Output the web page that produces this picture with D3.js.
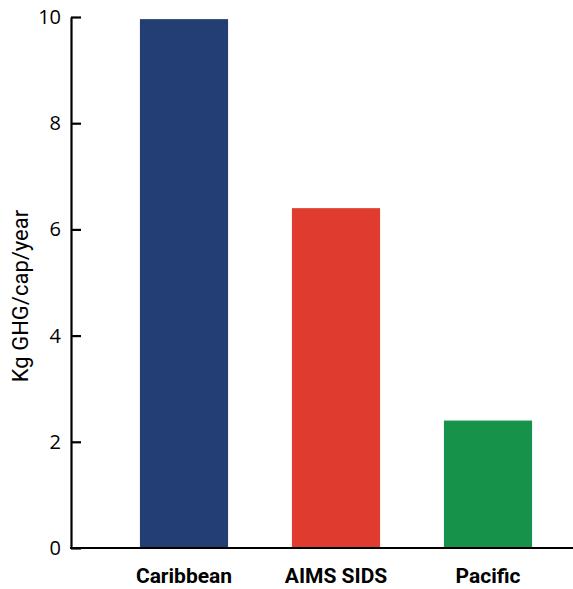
<!DOCTYPE html>
<html lang="en">
<head>
<meta charset="utf-8">
<title>GHG per capita</title>
<script src="https://cdn.jsdelivr.net/npm/d3@7"></script>
<style>
  body { margin: 0; background: #fff; }
</style>
</head>
<body>
<script>
var regions = ["Caribbean", "AIMS SIDS", "Pacific"];
var emissions = [9.96, 6.4, 2.4];
var barColors = ["#223e72", "#df3b2f", "#16924a"];
var yTicks = [0, 2, 4, 6, 8, 10];

var w = 573, h = 589;
var plotLeft = 71, plotTop = 17, plotBottom = 548;

var svg = d3.select("body").append("svg").attr("width", w).attr("height", h);

var x = d3.scaleBand().domain(regions).range([108, 564]).paddingInner(0.42).paddingOuter(0.21);
var y = d3.scaleLinear().domain([0, 10]).range([plotBottom, plotTop]);

// bars
svg.selectAll("rect.bar")
  .data(emissions)
  .enter()
  .append("rect")
  .attr("class", "bar")
  .attr("x", function(d, i) { return x(regions[i]); })
  .attr("y", function(d) { return y(d); })
  .attr("width", x.bandwidth())
  .attr("height", function(d) { return plotBottom - y(d); })
  .attr("fill", function(d, i) { return barColors[i]; });

// y axis, ticks point inward
var yAxis = svg.append("g")
  .attr("transform", "translate(" + plotLeft + ",0)")
  .call(d3.axisLeft(y).tickValues(yTicks).tickSizeInner(-10).tickSizeOuter(0).tickPadding(10));
yAxis.select(".domain").attr("stroke-width", 2.2);
yAxis.selectAll(".tick line").attr("stroke-width", 2.2);
yAxis.selectAll(".tick text")
  .attr("font-family", "Open Sans, sans-serif")
  .attr("font-size", 20)
  .attr("fill", "#000");

// baseline
svg.append("line")
  .attr("x1", plotLeft - 1).attr("x2", w)
  .attr("y1", y(0)).attr("y2", y(0))
  .attr("stroke", "#000").attr("stroke-width", 2.2);

// category labels
svg.selectAll("text.cat")
  .data(regions)
  .enter()
  .append("text")
  .attr("class", "cat")
  .attr("x", function(d) { return x(d) + x.bandwidth() / 2; })
  .attr("y", 583)
  .attr("text-anchor", "middle")
  .attr("font-family", "Roboto, sans-serif")
  .attr("font-weight", "bold")
  .attr("font-size", 21)
  .text(function(d) { return d; });

// y axis title
svg.append("text")
  .attr("transform", "translate(28,296) rotate(-90)")
  .attr("text-anchor", "middle")
  .attr("font-family", "Roboto, sans-serif")
  .attr("font-size", 22)
  .text("Kg GHG/cap/year");
</script>
</body>
</html>
